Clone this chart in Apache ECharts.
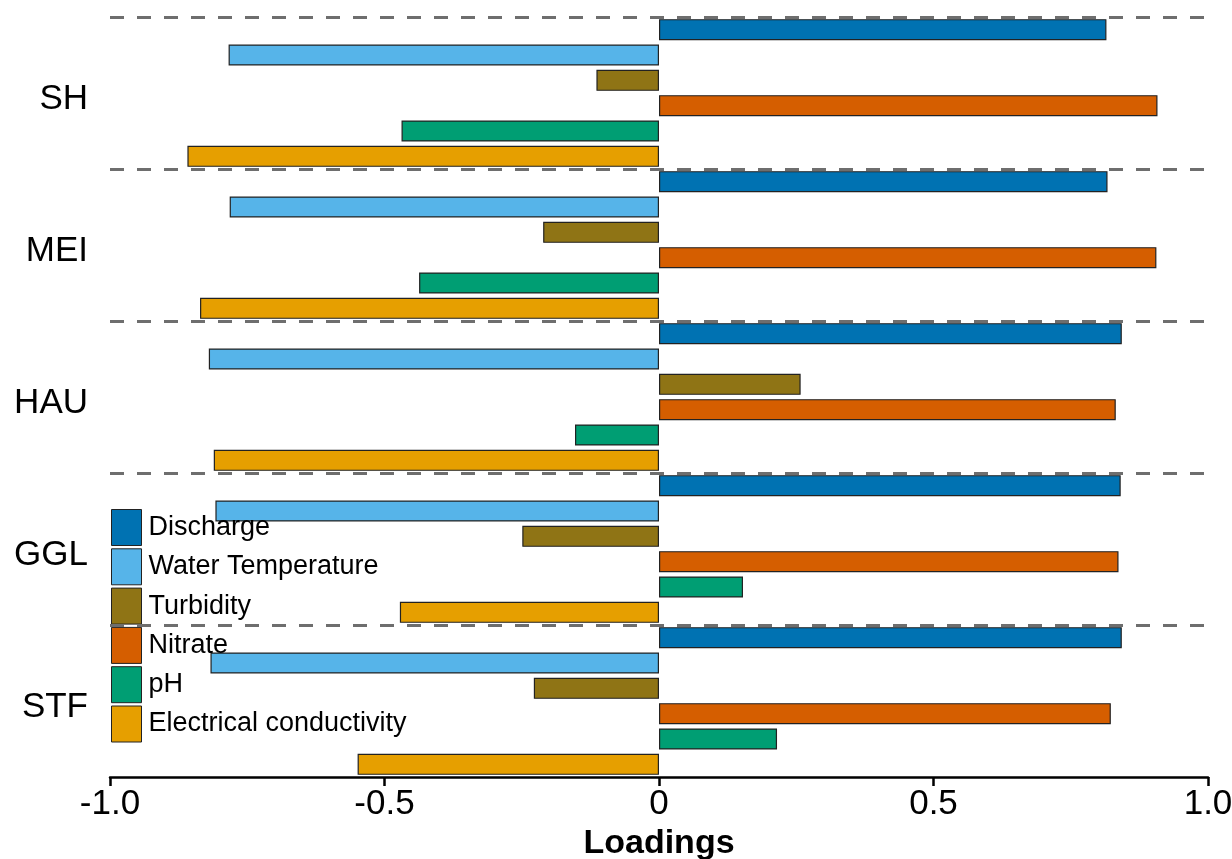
<!DOCTYPE html>
<html>
<head>
<meta charset="utf-8">
<script src="https://cdn.jsdelivr.net/npm/echarts@6/dist/echarts.min.js"></script>
<style>
  html, body { margin: 0; padding: 0; background: #fff; }
  #chart { width: 1232px; height: 859px; }
</style>
</head>
<body>
<div id="chart"></div>
<script>
// Sites (top to bottom) and the variables loaded in each site's PCA
const sites = ['SH', 'MEI', 'HAU', 'GGL', 'STF'];
const variables = ['Discharge', 'Water Temperature', 'Turbidity', 'Nitrate', 'pH', 'Electrical conductivity'];

// Loadings per variable, one value per site (same order as `sites`)
const discharge   = [0.815, 0.817, 0.843, 0.841, 0.843];
const waterTemp   = [-0.784, -0.782, -0.820, -0.808, -0.817];
const turbidity   = [-0.114, -0.211, 0.258, -0.249, -0.228];
const nitrate     = [0.908, 0.906, 0.832, 0.837, 0.823];
const ph          = [-0.469, -0.437, -0.153, 0.153, 0.215];
const conductivity = [-0.859, -0.836, -0.811, -0.472, -0.549];

// Axis ticks
const xTicks = [-1.0, -0.5, 0, 0.5, 1.0];

const colors = ['#0072B2', '#56B4E9', '#8F7415', '#D55E00', '#009E73', '#E69F00'];
const valueSets = [discharge, waterTemp, turbidity, nitrate, ph, conductivity];
const FONT = "'Liberation Sans', Arial, sans-serif";

// one row per (site, variable) pair
const rows = [];
sites.forEach(s => variables.forEach(v => rows.push(s + ' | ' + v)));

const series = variables.map((name, vi) => {
  const data = rows.map(() => '-');
  sites.forEach((s, si) => { data[si * variables.length + vi] = valueSets[vi][si]; });
  return {
    name: name,
    type: 'bar',
    yAxisIndex: 0,
    data: data,
    barWidth: 21,
    barGap: '-100%',
    itemStyle: { color: colors[vi], borderColor: '#222', borderWidth: 1.2 },
    emphasis: { disabled: true },
    animation: false
  };
});

const chart = echarts.init(document.getElementById('chart'), null, { renderer: 'canvas' });
chart.setOption({
  animation: false,
  grid: { left: 110, right: 24, top: 17, bottom: 82, containLabel: false, outerBoundsMode: 'none' },
  legend: {
    orient: 'vertical',
    left: 111,
    top: 509,
    itemWidth: 30,
    itemHeight: 36,
    itemGap: 2.3,
    icon: 'rect',
    padding: 0,
    selectedMode: false,
    itemStyle: { borderColor: '#222', borderWidth: 1 },
    textStyle: { fontFamily: FONT, fontSize: 27, color: '#000', padding: [0, 0, 0, 2] },
    data: variables
  },
  xAxis: {
    type: 'value',
    min: xTicks[0],
    max: xTicks[xTicks.length - 1],
    interval: 0.5,
    z: 20,
    name: 'Loadings',
    nameLocation: 'middle',
    nameGap: 44,
    nameTextStyle: { fontFamily: FONT, fontSize: 34, fontWeight: 'bold', color: '#000' },
    axisLine: { show: true, lineStyle: { color: '#000', width: 2.5 } },
    axisTick: { show: true, length: 9, lineStyle: { color: '#000', width: 2.5 } },
    axisLabel: {
      fontFamily: FONT, fontSize: 35, color: '#000', margin: 10,
      formatter: v => (v === 0 ? '0' : v.toFixed(1))
    },
    splitLine: { show: false }
  },
  yAxis: [
    {
      type: 'category',
      inverse: true,
      data: rows,
      axisLine: { show: false },
      axisTick: { show: false },
      axisLabel: { show: false },
      splitLine: { show: false }
    },
    {
      type: 'category',
      inverse: true,
      position: 'left',
      data: sites,
      z: 10,
      axisLine: { show: false },
      axisTick: { show: false },
      axisLabel: {
        fontFamily: FONT, fontSize: 35, color: '#000', margin: 22,
        verticalAlign: 'top', lineHeight: 12
      },
      splitLine: {
        show: true,
        showMinLine: true,
        showMaxLine: false,
        lineStyle: { color: '#6e6e6e', width: 3, type: [14, 13] }
      }
    }
  ],
  series: series
});
</script>
</body>
</html>
